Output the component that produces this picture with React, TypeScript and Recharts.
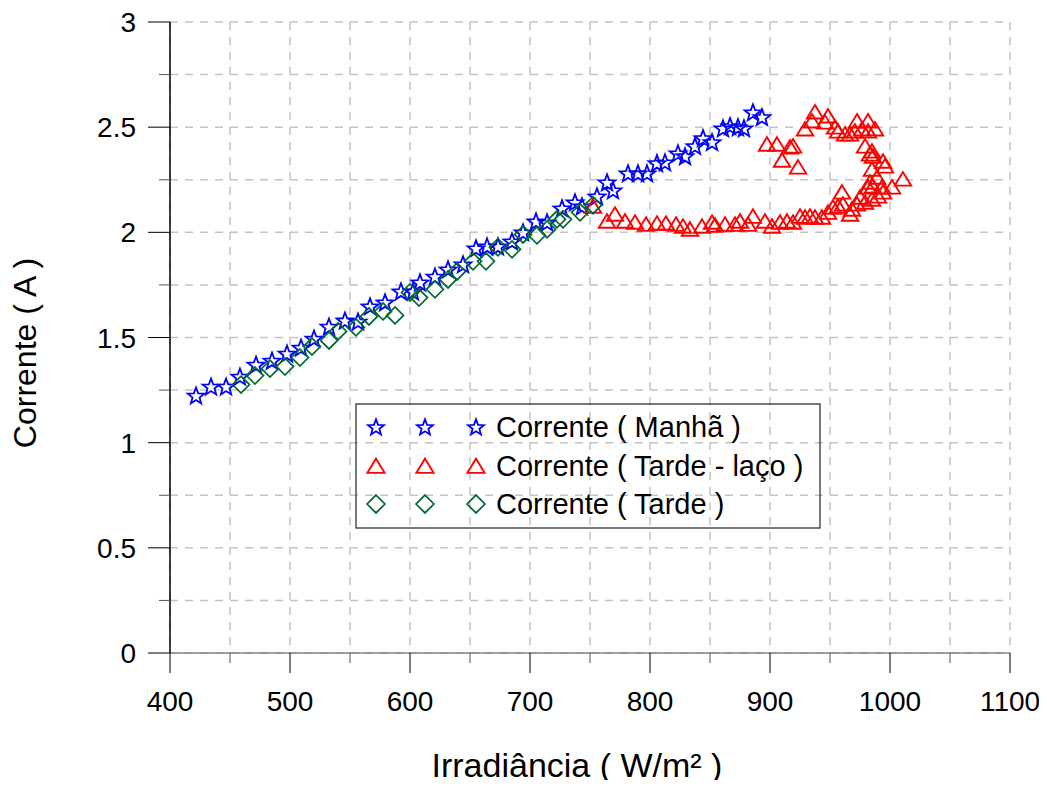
import React from 'react';
import { ScatterChart, Scatter, XAxis, YAxis, CartesianGrid, Customized } from 'recharts';

// Corrente ( Manhã ) : [irradiância, corrente]
const manha: [number, number][] = [
  [421.7, 1.224], [434.2, 1.267], [446.7, 1.267], [458.3, 1.314], [471.7, 1.371],
  [485, 1.39], [497.5, 1.424], [509.2, 1.452], [520, 1.495], [532.5, 1.552],
  [545.8, 1.581], [556.7, 1.576], [566.7, 1.648], [579.2, 1.667], [592.5, 1.719],
  [602.5, 1.719], [608.3, 1.762], [620.8, 1.79], [631.7, 1.824], [644.2, 1.848],
  [655, 1.924], [664.2, 1.933], [673.3, 1.933], [685, 1.957], [694.2, 2.0],
  [705, 2.052], [714.2, 2.048], [726.7, 2.114], [737.5, 2.143], [743.3, 2.124],
  [755.8, 2.171], [764.2, 2.238], [769.2, 2.2], [781.7, 2.281], [790, 2.281],
  [797.5, 2.281], [805.8, 2.329], [812.5, 2.333], [823.3, 2.376], [829.2, 2.362],
  [837.5, 2.41], [844.2, 2.448], [851.7, 2.429], [860.8, 2.495], [866.7, 2.505],
  [873.3, 2.5], [878.3, 2.495], [885.8, 2.571], [893.3, 2.548],
];

// Corrente ( Tarde - laço )
const tardeLaco: [number, number][] = [
  [752.5, 2.124], [764.2, 2.053], [770.8, 2.086], [779.2, 2.053], [787.5, 2.048],
  [796.7, 2.038], [805.8, 2.043], [813.3, 2.043], [821.7, 2.038], [827.5, 2.029],
  [833.3, 2.015], [843.3, 2.029], [851.7, 2.048], [854.2, 2.034], [862.5, 2.038],
  [870.8, 2.038], [875, 2.053], [881.7, 2.038], [885.8, 2.076], [895.8, 2.053],
  [901.7, 2.029], [908.3, 2.048], [914.2, 2.053], [919.2, 2.048], [925, 2.076],
  [929.2, 2.072], [933.3, 2.076], [937.5, 2.072], [943.3, 2.072], [948.3, 2.095],
  [952.5, 2.119], [956.7, 2.124], [960.8, 2.134], [966.7, 2.086], [968.3, 2.11],
  [972.5, 2.134], [975, 2.167], [979.2, 2.143], [960, 2.191], [985, 2.157],
  [990, 2.172], [994.2, 2.191], [993.3, 2.215], [981.7, 2.215], [985.8, 2.219],
  [983.3, 2.238], [989.2, 2.262], [1001.7, 2.215], [1010.8, 2.253], [985, 2.3],
  [995.8, 2.315], [994.2, 2.338], [983.3, 2.372], [985.8, 2.362], [985, 2.386],
  [979.2, 2.41], [987.5, 2.491], [981.7, 2.481], [981.7, 2.529], [976.7, 2.491],
  [972.5, 2.529], [970.8, 2.481], [966.7, 2.467], [962.5, 2.467], [956.7, 2.481],
  [954.2, 2.5], [948.3, 2.553], [945.8, 2.524], [937.5, 2.572], [935, 2.529],
  [929.2, 2.491], [897.5, 2.419], [905.8, 2.419], [916.7, 2.405], [919.2, 2.41],
  [910, 2.343], [923.3, 2.31],
];

// Corrente ( Tarde )
const tarde: [number, number][] = [
  [459.2, 1.276], [470.8, 1.319], [483.3, 1.352], [495.8, 1.362], [508.3, 1.405],
  [518.3, 1.457], [532.5, 1.486], [540, 1.529], [555, 1.548], [565.8, 1.6],
  [577.5, 1.624], [587.5, 1.605], [600, 1.714], [607.5, 1.69], [620.8, 1.729],
  [631.7, 1.776], [639.2, 1.814], [652.5, 1.862], [663.3, 1.862], [673.3, 1.929],
  [685, 1.919], [694.2, 1.99], [705.8, 1.986], [714.2, 2.014], [722.5, 2.062],
  [727.5, 2.062], [741.7, 2.095], [752.5, 2.129],
];

const xTicks = [400, 450, 500, 550, 600, 650, 700, 750, 800, 850, 900, 950, 1000, 1050, 1100];
const yTicks = [0, 0.25, 0.5, 0.75, 1, 1.25, 1.5, 1.75, 2, 2.25, 2.5, 2.75, 3];
const yLabels: Record<string, string> = { '0': '0', '0.5': '0.5', '1': '1', '1.5': '1.5', '2': '2', '2.5': '2.5', '3': '3' };

const seriesNames = ['Corrente ( Manhã )', 'Corrente ( Tarde - laço )', 'Corrente ( Tarde )'];
const xTitle = 'Irradiância ( W/m² )';
const yTitle = 'Corrente ( A )';

const FONT = '"Liberation Sans", Arial, Helvetica, sans-serif';
const BLUE = '#0000ff';
const RED = '#ff0000';
const GREEN = '#006a33';

const toPts = (arr: [number, number][]) => arr.map(([x, y]) => ({ x, y }));

function starPath(cx: number, cy: number, R: number, r: number) {
  const pts: string[] = [];
  for (let i = 0; i < 10; i++) {
    const rad = i % 2 === 0 ? R : r;
    const a = -Math.PI / 2 + (i * Math.PI) / 5;
    pts.push(`${cx + rad * Math.cos(a)},${cy + rad * Math.sin(a)}`);
  }
  return 'M' + pts.join('L') + 'Z';
}

const StarMark = ({ cx, cy, s = 1 }: any) => (
  <path d={starPath(cx, cy + 0.8 * s, 8.8 * s, 3.7 * s)} fill="none" stroke={BLUE} strokeWidth={1.8} strokeLinejoin="miter" />
);
const TriMark = ({ cx, cy, s = 1 }: any) => (
  <path d={`M${cx},${cy - 7 * s}L${cx + 8.2 * s},${cy + 6.5 * s}L${cx - 8.2 * s},${cy + 6.5 * s}Z`} fill="none" stroke={RED} strokeWidth={1.9} />
);
const DiaMark = ({ cx, cy, s = 1 }: any) => (
  <path d={`M${cx},${cy - 8.5 * s}L${cx + 8.5 * s},${cy}L${cx},${cy + 8.5 * s}L${cx - 8.5 * s},${cy}Z`} fill="none" stroke={GREEN} strokeWidth={1.7} />
);

const XTick = (props: any) => {
  const { x, y, payload } = props;
  const v = payload.value;
  const major = v % 100 === 0;
  return (
    <g>
      <line x1={x} x2={x} y1={y} y2={y + (major ? 20 : 10)} stroke={major ? '#000' : '#555'} strokeWidth={1} />
      {major && (
        <text x={x} y={y + 58} textAnchor="middle" fontSize={28} fontFamily={FONT} fill="#000">{v}</text>
      )}
    </g>
  );
};

const YTick = (props: any) => {
  const { x, y, payload } = props;
  const v = payload.value;
  const label = yLabels[String(v)];
  const major = label !== undefined;
  return (
    <g>
      <line x1={x} x2={x - (major ? 22 : 11)} y1={y} y2={y} stroke={major ? '#000' : '#555'} strokeWidth={1} />
      {major && (
        <text x={x - 34} y={y + 10} textAnchor="end" fontSize={28} fontFamily={FONT} fill="#000">{label}</text>
      )}
    </g>
  );
};

const Decor = () => {
  const rowsY = [419, 458, 496];
  const markX = [368, 417, 468];
  const marks = [StarMark, TriMark, DiaMark];
  return (
    <g>
      <text x={569} y={769} textAnchor="middle" fontSize={34} fontFamily={FONT} fill="#000">{xTitle}</text>
      <text transform="translate(28,345) rotate(-90)" x={0} y={0} textAnchor="middle" fontSize={32} fontFamily={FONT} fill="#000">{yTitle}</text>
      <rect x={348} y={396} width={464} height={124} fill="none" stroke="#333" strokeWidth={1.3} />
      {seriesNames.map((name, i) => {
        const M = marks[i];
        return (
          <g key={name}>
            {markX.map((mx) => (
              <M key={mx} cx={mx} cy={rowsY[i]} s={i === 0 ? 0.95 : 1.05} />
            ))}
            <text x={488} y={rowsY[i] + 10} fontSize={29} fontFamily={FONT} fill="#000">{name}</text>
          </g>
        );
      })}
    </g>
  );
};

export default function App() {
  return (
    <div style={{ width: 1031, height: 772 }}>
      <style>{'.recharts-surface{overflow:visible}'}</style>
      <ScatterChart width={1031} height={772} margin={{ top: 14, right: 29, bottom: 67, left: 0 }}>
        <CartesianGrid stroke="#c4c4c4" strokeWidth={1.5} strokeDasharray="8 7" />
        <XAxis
          type="number"
          dataKey="x"
          domain={[400, 1100]}
          ticks={xTicks}
          interval={0}
          allowDataOverflow
          height={60}
          tickSize={0}
          tickMargin={0}
          tickLine={false}
          tick={<XTick />}
          axisLine={{ stroke: '#808080', strokeWidth: 1.5 }}
        />
        <YAxis
          type="number"
          dataKey="y"
          domain={[0, 3]}
          ticks={yTicks}
          interval={0}
          allowDataOverflow
          width={162}
          tickSize={0}
          tickMargin={0}
          tickLine={false}
          tick={<YTick />}
          axisLine={{ stroke: '#000', strokeWidth: 1.5 }}
        />
        <Scatter name={seriesNames[0]} data={toPts(manha)} shape={(p: any) => <StarMark cx={p.cx} cy={p.cy} />} isAnimationActive={false} />
        <Scatter name={seriesNames[1]} data={toPts(tardeLaco)} shape={(p: any) => <TriMark cx={p.cx} cy={p.cy} />} isAnimationActive={false} />
        <Scatter name={seriesNames[2]} data={toPts(tarde)} shape={(p: any) => <DiaMark cx={p.cx} cy={p.cy} />} isAnimationActive={false} />
        <Customized component={Decor} />
      </ScatterChart>
    </div>
  );
}
